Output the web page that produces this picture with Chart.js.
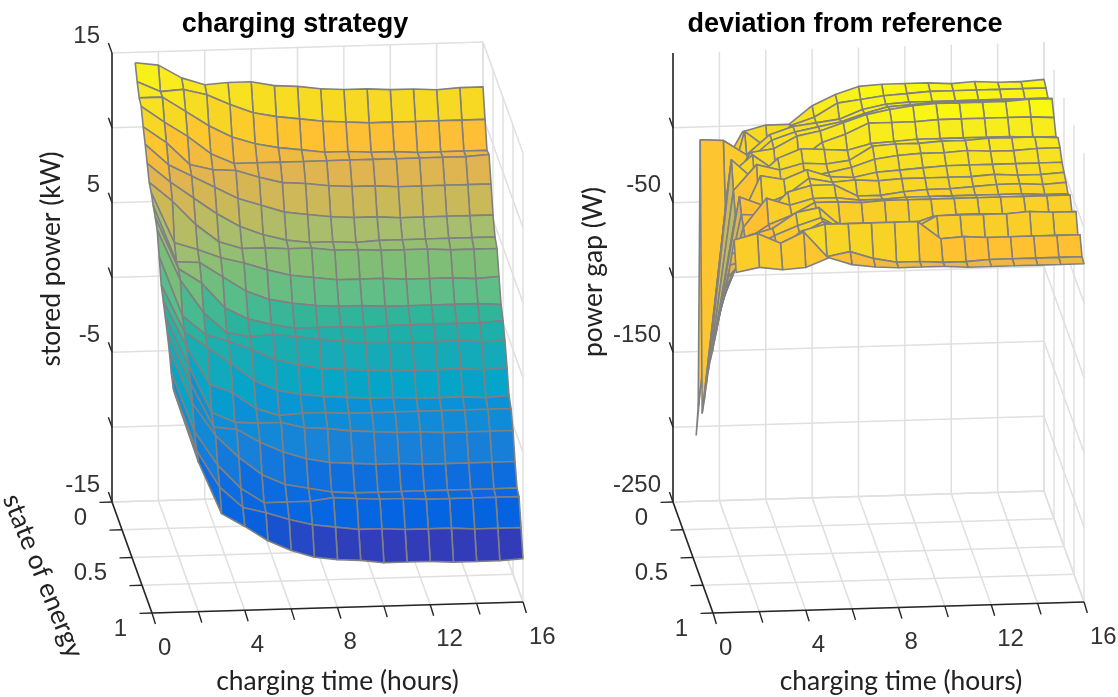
<!DOCTYPE html>
<html>
<head>
<meta charset="utf-8">
<style>
html,body{margin:0;padding:0;background:#fff;width:1118px;height:697px;overflow:hidden}
canvas{position:absolute;top:0}
</style>
<script src="https://cdn.jsdelivr.net/npm/chart.js@4"></script>
</head>
<body>
<canvas id="left" width="590" height="697" style="left:0"></canvas>
<canvas id="right" width="546" height="697" style="left:572px"></canvas>
<script>
const chargingHours = [1,2,3,4,5,6,7,8,9,10,11,12,13,14,15,16];
const stateOfEnergy = [0,0.05,0.1,0.15,0.2,0.25,0.3,0.35,0.4,0.45,0.5,0.55,0.6,0.65,0.7,0.75,0.8,0.85,0.9,0.95,1];
const storedPower = [
[14.3,14.1,13.2,12.7,12.8,12.8,12.5,12.4,12.2,12.1,12.1,12,12,11.9,12,12],
[13.4,12.7,12.8,12.4,11.7,11.1,10.8,10.6,10.4,10.3,10.2,10.2,10.2,10.2,10.2,10.2],
[12.7,12.7,11.7,10.7,9.9,9.4,9.1,8.9,8.7,8.7,8.6,8.6,8.5,8.5,8.5,8.5],
[12.5,11.4,10.4,9.2,8.5,8.5,8.5,8.5,8.5,8.5,8.5,8.5,8.5,8.5,8.5,8.6],
[11.5,10.4,8.9,8.5,8.4,7.9,7.5,7.4,7.2,7.1,7.1,7,7,7,7,7],
[10.7,9.3,8.5,7.7,6.9,6.4,5.9,5.7,5.5,5.4,5.4,5.3,5.3,5.3,5.3,5.3],
[9.8,8.5,7.4,6.3,5.4,4.8,4.4,4.2,4.2,4.1,4.2,4.2,4.2,4.2,4.2,4.2],
[8.9,7.6,6,4.8,4.3,4.3,4.2,4.2,4,4,3.9,3.9,3.9,3.8,3.8,3.8],
[8.6,5.2,4.7,4.1,3.7,3.2,2.8,2.6,2.4,2.4,2.4,2.3,2.3,2.3,2.2,2.3],
[8.1,4.3,4.2,3.2,2.2,1.6,1.3,1.1,1,1,0.9,0.9,0.9,0.9,0.9,0.8],
[7.7,4.2,3.2,1.5,0.7,0.3,0,0,0,-0.1,0,0,0,0,0,0.1],
[7.2,3.8,1.6,0.2,-0.1,0,-0.2,-0.4,-0.6,-0.7,-0.7,-0.8,-0.8,-0.8,-0.9,-0.9],
[5.8,1.8,0.5,0,-0.6,-1.3,-1.7,-2,-2.1,-2.2,-2.3,-2.3,-2.3,-2.3,-2.4,-2.3],
[4.3,1.1,0,-1.1,-2.3,-3,-3.3,-3.5,-3.6,-3.7,-3.7,-3.8,-3.8,-3.8,-3.9,-3.8],
[3.6,0.5,-2.1,-2.7,-3.8,-4.3,-4.2,-4.2,-4.3,-4.3,-4.3,-4.3,-4.3,-4.3,-4.3,-4.3],
[2.9,-0.4,-3.6,-4.3,-4.4,-4.4,-4.8,-4.9,-5.1,-5.2,-5.3,-5.3,-5.4,-5.4,-5.4,-5.4],
[2.2,-1.2,-4.2,-4.4,-5.3,-6,-6.5,-6.8,-6.9,-7,-7,-7.1,-7.1,-7.1,-7.1,-7.1],
[1.4,-2.2,-4.4,-5.9,-7.1,-7.8,-8.1,-8.4,-8.5,-8.5,-8.5,-8.5,-8.5,-8.5,-8.5,-8.5],
[0.3,-3.7,-6,-7.6,-8.6,-8.6,-8.6,-8.4,-8.5,-8.6,-8.6,-8.7,-8.7,-8.7,-8.7,-8.7],
[-0.4,-4.6,-7.1,-8.5,-8.9,-9.4,-9.8,-10,-10.2,-10.2,-10.3,-10.3,-10.3,-10.4,-10.4,-10.4],
[-0.5,-5,-8.5,-9.4,-10.4,-11.1,-11.6,-11.8,-11.9,-12.1,-12.1,-12.1,-12.2,-12.2,-12.2,-12.1]
];
const powerGap = [
[-206,-31,-4,0,0,12,19,24,25,25,25,24,25,24,24,25],
[-183,-56,0,-12,3,8,17,19,21,22,23,23,23,23,23,23],
[-1,-2,-12,1,6,8,10,16,19,20,20,20,20,20,20,20],
[-180,-45,-12,1,6,9,12,17,21,22,23,23,23,23,23,23],
[-168,-28,-3,-1,7,10,15,20,23,25,26,26,26,26,27,27],
[-154,-14,-1,-12,-5,6,11,18,18,18,19,19,19,19,19,18],
[-141,0,-14,0,6,5,4,8,9,10,10,10,10,10,9,9],
[-130,-17,0,-4,0,-1,1,10,11,11,12,12,13,13,13,12],
[-121,-30,-21,-14,-6,-3,0,5,7,8,8,9,8,8,9,9],
[-110,-33,0,-3,3,-2,-3,0,1,2,3,3,3,3,3,3],
[-100,-10,-16,-10,1,-2,-1,-2,-1,-1,-1,-1,0,-1,-1,0],
[-89,-18,-19,-4,0,0,-8,-8,-6,-5,-5,-4,-3,-3,-4,-3],
[-79,-23,-4,-9,-5,-5,-7,-7,-6,-6,-6,-6,-6,-6,-7,-7],
[-69,-28,-18,-12,-4,-4,-5,-4,-4,-4,-4,-4,-4,-4,-4,-4],
[-61,-24,-18,-15,-7,-15,-16,-17,-17,-12,-11,-11,-12,-11,-12,-12],
[-52,-17,-13,-3,0,-14,-16,-16,-17,-13,-14,-14,-14,-14,-14,-14],
[-41,-23,-14,-8,-3,-12,-11,-11,-12,-4,-4,-4,-4,-3,-4,-4],
[-29,-25,-17,-10,-2,-7,-6,-6,-7,-17,-16,-17,-17,-17,-17,-17],
[-17,-24,-16,-4,0,0,0,0,0,-12,-11,-12,-12,-12,-12,-12],
[-5,-1,-8,-1,-18,-15,-20,-23,-23,-24,-24,-23,-23,-23,-23,-23],
[-23,-20,-22,-21,-15,-20,-22,-23,-23,-23,-24,-24,-24,-24,-24,-24]
];
const timeGrid = [0,2,4,6,8,10,12,14,16];
const timeLabels = [0,4,8,12,16];
const socGrid = [0,0.25,0.5,0.75,1];
const socLabels = [0,0.5,1];
const powerGrid = [15,10,5,0,-5,-10,-15];
const powerLabels = [15,5,-5,-15];
const gapGrid = [0,-50,-100,-150,-200,-250];
const gapLabels = [-50,-150,-250];

// parula-like map: [level 0..1, r, g, b]
const colourStops = [
[0,48,60,180],[0.038,50,60,185],[0.102,5,100,225],[0.17,15,110,222],[0.234,25,130,215],
[0.309,10,145,215],[0.347,5,165,200],[0.4,20,170,185],[0.442,28,175,172],[0.475,45,180,155],
[0.521,95,190,135],[0.574,125,190,118],[0.638,165,190,110],[0.687,200,185,90],[0.762,225,180,80],
[0.819,255,192,50],[0.875,247,215,35],[0.951,248,235,30],[1,249,251,14]];

function colourAt(v){
  v = Math.max(0, Math.min(1, v));
  for (let i = 1; i < colourStops.length; i++) {
    const a = colourStops[i-1], b = colourStops[i];
    if (v <= b[0]) {
      const f = (v - a[0]) / (b[0] - a[0]);
      return `rgb(${[1,2,3].map(k => Math.round(a[k] + (b[k]-a[k])*f)).join(',')})`;
    }
  }
  return 'rgb(249,251,14)';
}

const GRID = '#e0e0e0', AXIS = '#262626', MESH = '#808080', TEXT = '#333333';
const TICK_FONT = '24px "Liberation Sans", Arial, sans-serif';
const LABEL_FONT = '26.4px Lato, sans-serif';

// level of the colour of one face
const nextColumnLevel = (v,r,c) => (v[r][c+1] + v[r+1][c+1]) / 2;
const upperBiasedLevel = (v,r,c) => {
  const z = [v[r][c],v[r][c+1],v[r+1][c],v[r+1][c+1]].sort((a,b)=>a-b);
  return (z[1] + 2*z[2] + z[3]) / 4;
};

function panel(cfg){
  const {canvasId, title, left, width, originX, values, zMin, zMax, zGrid, zLabels, cMin, cMax, zTitle, zTitlePos, socTitle, faceLevel} = cfg;
  const P = (t,s,z) => ({
    x: originX + t/16*371 + s*40,
    y: 502 - t/16*11 + s*111 - (z-zMin)/(zMax-zMin)*449
  });
  const seg = (pts, color, w) => ({
    data: pts, showLine: true, fill: false, borderColor: color, borderWidth: w,
    pointRadius: 0, clip: false, tension: 0, borderCapStyle: 'butt'
  });
  const axes = [], ticks = [], grid = [], quads = [];

  axes.push(seg([P(0,0,zMin),P(0,0,zMax)], AXIS, 1.6));
  axes.push(seg([P(0,0,zMin),P(0,1,zMin)], AXIS, 1.6));
  axes.push(seg([P(0,1,zMin),P(16,1,zMin)], AXIS, 1.6));
  const off = (p,dx,dy) => ({x:p.x+dx, y:p.y+dy});
  zGrid.forEach(z => { const p = P(0,0,z); ticks.push(seg([p,off(p,-3.6,-10)], AXIS, 1.4)); });
  socGrid.forEach(s => { const p = P(0,s,zMin); ticks.push(seg([p,off(p,-12.5,0.4)], AXIS, 1.4)); });
  timeGrid.forEach(t => { const p = P(t,1,zMin); ticks.push(seg([p,off(p,3.4,11)], AXIS, 1.4)); });
  timeGrid.forEach(t => {
    grid.push(seg([P(t,0,zMin),P(t,1,zMin)], GRID, 1.5));
    grid.push(seg([P(t,0,zMin),P(t,0,zMax)], GRID, 1.5));
  });
  socGrid.forEach(s => {
    grid.push(seg([P(0,s,zMin),P(16,s,zMin)], GRID, 1.5));
    grid.push(seg([P(16,s,zMin),P(16,s,zMax)], GRID, 1.5));
  });
  zGrid.forEach(z => {
    grid.push(seg([P(0,0,z),P(16,0,z)], GRID, 1.5));
    grid.push(seg([P(16,0,z),P(16,1,z)], GRID, 1.5));
  });
  // surface: nearest faces first, since the first dataset is painted last
  for (let r = values.length-2; r >= 0; r--) {
    for (let c = 0; c < chargingHours.length-1; c++) {
      const corners = [[r,c],[r,c+1],[r+1,c+1],[r+1,c]];
      const pts = corners.map(([i,j]) => P(chargingHours[j], stateOfEnergy[i], values[i][j]));
      pts.push(pts[0]);
      quads.push({
        data: pts, showLine: true, fill: 'shape', pointRadius: 0, clip: false, tension: 0,
        backgroundColor: colourAt((faceLevel(values,r,c)-cMin)/(cMax-cMin)),
        borderColor: MESH, borderWidth: 1.6, borderJoinStyle: 'round'
      });
    }
  }

  const textPlugin = {
    id: 'axisText',
    afterDraw(chart){
      const ctx = chart.ctx, px = p => ({x: chart.scales.x.getPixelForValue(p.x), y: chart.scales.y.getPixelForValue(p.y)});
      ctx.save();
      ctx.fillStyle = TEXT;
      ctx.font = TICK_FONT;
      ctx.textBaseline = 'middle';
      ctx.textAlign = 'right';
      zLabels.forEach(z => { const q = px(P(0,0,z)); ctx.fillText(String(z), q.x-12, q.y-17); });
      socLabels.forEach(s => { const q = px(P(0,s,zMin)); ctx.fillText(String(s), q.x-25, q.y+16); });
      ctx.textAlign = 'left';
      timeLabels.forEach(t => { const q = px(P(t,1,zMin)); ctx.fillText(String(t), q.x+6, q.y+35); });
      ctx.fillStyle = '#222';
      ctx.font = LABEL_FONT;
      ctx.textAlign = 'center';
      const a = px(P(8,1,zMin));
      ctx.fillText('charging time (hours)', a.x+(cfg.xTitleDx||0), a.y+73.5);
      const z = px(zTitlePos);
      ctx.save(); ctx.translate(z.x, z.y); ctx.rotate(-Math.PI/2); ctx.fillText(zTitle, 0, 0); ctx.restore();
      if (socTitle) {
        const b = px(socTitle.pos);
        ctx.save(); ctx.translate(b.x, b.y); ctx.rotate(socTitle.angle); ctx.fillText(socTitle.text, 0, 0); ctx.restore();
      }
      ctx.restore();
    }
  };

  return new Chart(document.getElementById(canvasId), {
    type: 'scatter',
    data: { datasets: [...axes, ...ticks, ...quads, ...grid] },
    options: {
      responsive: false, animation: false, events: [], devicePixelRatio: 1,
      layout: { padding: 0 },
      scales: {
        x: { type: 'linear', display: false, min: left, max: left+width },
        y: { type: 'linear', display: false, reverse: true, min: 40.4, max: 697 }
      },
      plugins: {
        legend: { display: false },
        tooltip: { enabled: false },
        title: { display: true, text: title, color: '#000',
          font: { family: '"Liberation Sans", Arial, sans-serif', size: 27, weight: 'bold', lineHeight: 1.2 },
          padding: { top: 8, bottom: 0 } }
      }
    },
    plugins: [textPlugin]
  });
}

panel({canvasId:'left', title:'charging strategy', left:0, width:590, originX:112, values:storedPower,
  zMin:-15, zMax:15, zGrid:powerGrid, zLabels:powerLabels, cMin:-12.2, cMax:14.3, faceLevel:nextColumnLevel,
  zTitle:'stored power (kW)', zTitlePos:{x:51,y:259},
  socTitle:{text:'state of energy', pos:{x:43,y:576}, angle:68*Math.PI/180}});
panel({canvasId:'right', title:'deviation from reference', left:572, width:546, originX:673, values:powerGap,
  zMin:-250, zMax:50, zGrid:gapGrid, zLabels:gapLabels, cMin:-206, cMax:27, faceLevel:upperBiasedLevel,
  zTitle:'power gap (W)', zTitlePos:{x:593,y:272}, xTitleDx:2.5});
</script>
</body>
</html>
